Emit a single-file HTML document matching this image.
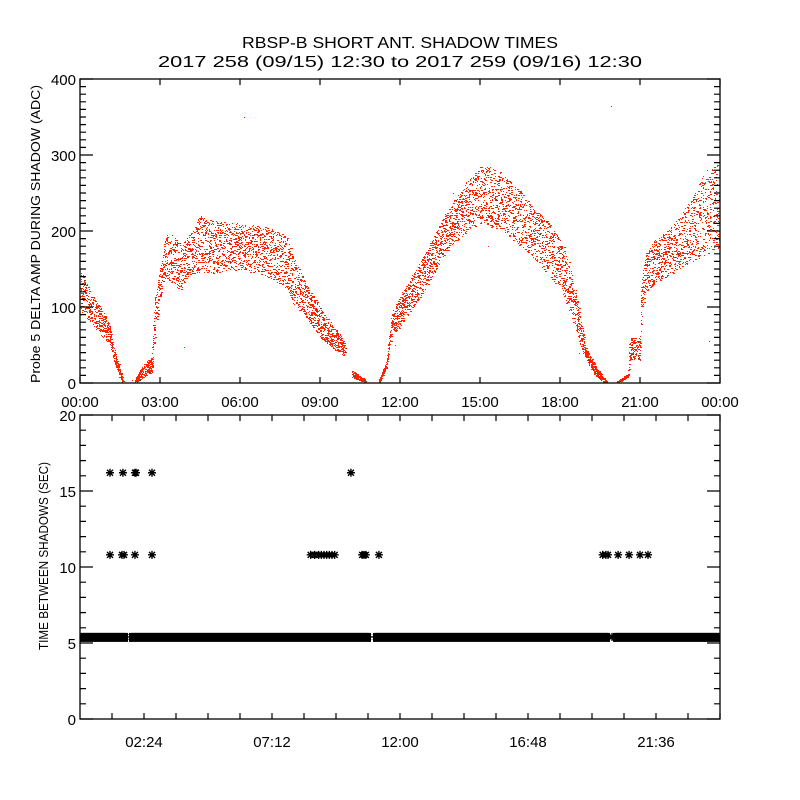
<!DOCTYPE html>
<html><head><meta charset="utf-8"><style>
html,body{margin:0;padding:0;background:#fff;}
svg{display:block;font-family:"Liberation Sans",sans-serif;}
</style></head><body>
<svg id="chart" width="800" height="800" viewBox="0 0 800 800" xmlns="http://www.w3.org/2000/svg">
<rect width="800" height="800" fill="#fff"/>
<defs><clipPath id="clipTop"><rect x="80" y="79" width="640" height="304"/></clipPath><clipPath id="clipBot"><rect x="80" y="415" width="640" height="304"/></clipPath></defs>
<text x="400" y="48" text-anchor="middle" font-size="16" textLength="316" lengthAdjust="spacingAndGlyphs">RBSP-B SHORT ANT. SHADOW TIMES</text>
<text x="400" y="67" text-anchor="middle" font-size="16" textLength="484" lengthAdjust="spacingAndGlyphs">2017 258 (09/15) 12:30 to 2017 259 (09/16) 12:30</text>
<g id="topPanel"></g>
<g id="botPanel"></g>
<text transform="translate(40,234) rotate(-90)" text-anchor="middle" font-size="13" textLength="298" lengthAdjust="spacingAndGlyphs">Probe 5 DELTA AMP DURING SHADOW (ADC)</text>
<text transform="translate(48,556) rotate(-90)" text-anchor="middle" font-size="13" textLength="188" lengthAdjust="spacingAndGlyphs">TIME BETWEEN SHADOWS (SEC)</text>
</svg>
<script>
// ---- top panel data (amplitude envelope, hours since start) ----
const ampHours = [0,0.5,1.0,1.1,1.2,1.45,1.6, 2.06,2.4,2.7,2.8,3.0,3.2,3.5,3.8,4.0,4.5,5,6,7,7.5,7.8,8.0,8.5,9.0,9.5,9.95, 10.2,10.45,10.7, 11.2,11.5,11.6,11.7,12,12.5,13,13.5,14,14.5,15,15.5,16,16.5,17,17.5,18,18.3,18.6,18.8,19.0,19.3,19.6,19.75, 20.15,20.55, 20.6,21.0, 21.05,21.2,21.5,22,22.5,23,23.5,24];
const ampLow   = [95,75,55,55,40,10,0, 0,8,15,60,110,140,130,120,140,145,145,150,140,130,120,105,85,60,45,35, 8,4,1, 1,20,50,60,75,100,125,160,180,200,210,205,195,180,165,145,125,100,65,45,30,10,2,0, 0,8, 30,30, 80,120,130,140,150,160,170,180];
const ampHigh  = [150,115,85,80,55,25,5, 5,25,35,110,150,195,195,180,190,220,215,210,205,200,190,165,130,100,75,55, 17,10,4, 4,30,65,95,115,145,175,210,240,265,285,285,270,255,230,215,190,170,120,80,45,25,8,3, 3,12, 60,60, 130,170,190,200,220,250,280,290];
const ampGaps  = [[1.6,2.06],[9.95,10.2],[10.7,11.2],[19.75,20.15]];
const ampOutH  = [6.15,19.9,3.9,1.95,15.3,23.6,18.7,11.8,14.0];
const ampOutV  = [350,365,48,4,180,55,40,50,250];
const topYTicks = [0,100,200,300,400];
const topXTicks = ["00:00","03:00","06:00","09:00","12:00","15:00","18:00","21:00","00:00"];
// ---- bottom panel data ----
const bandSegStart = [0,1.95,11.1,20.1];
const bandSegEnd   = [1.69,10.8,19.76,24];
const bandValue = 5.4;
const outH = [1.125,1.61,2.06,2.1,2.7,10.16, 1.125,1.575,1.65,2.06,2.7,8.65,8.8,8.95,9.05,9.15,9.25,9.35,9.45,9.55,10.58,10.65,10.72,11.21,19.6,19.72,19.8,19.95,20.18,20.59,21.0,21.3];
const outV = [16.2,16.2,16.2,16.2,16.2,16.2, 10.8,10.8,10.8,10.8,10.8,10.8,10.8,10.8,10.8,10.8,10.8,10.8,10.8,10.8,10.8,10.8,10.8,10.8,10.8,10.8,10.8,5.4,10.8,10.8,10.8,10.8];
const botYTicks = [0,5,10,15,20];
const botXTicks = ["02:24","07:12","12:00","16:48","21:36"];

const NS="http://www.w3.org/2000/svg";
const L=80,R=720;
const T1=79,B1=383,T2=415,B2=719;
const xs=h=>L+(R-L)*h/24;
const y1=v=>B1-(B1-T1)*v/400;
const y2=v=>B2-(B2-T2)*v/20;
function mk(p,tag,at){const e=document.createElementNS(NS,tag);for(const k in at)e.setAttribute(k,at[k]);p.appendChild(e);return e;}
const topG=document.getElementById('topPanel'),botG=document.getElementById('botPanel');

function interp(arrX,arrY,h){
  for(let i=0;i<arrX.length-1;i++){if(h>=arrX[i]&&h<=arrX[i+1]){const f=(h-arrX[i])/((arrX[i+1]-arrX[i])||1);return arrY[i]+f*(arrY[i+1]-arrY[i]);}}
  return arrY[arrY.length-1];
}
// deterministic hash used only for dot placement within the band
function hsh(n,s){let x=Math.sin(n*12.9898+s*78.233)*43758.5453;return x-Math.floor(x);}
let d="",dk="";let k=0;
for(let h0=0;h0<=24;h0+=0.003){
  k++;
  const h=h0+(hsh(k,1)-0.5)*0.1;
  if(h<0||h>24)continue;
  if(ampGaps.some(q=>h>q[0]&&h<q[1]))continue;
  const lo=interp(ampHours,ampLow,h),hi=interp(ampHours,ampHigh,h);
  const f=hsh(k,2);
  const v=lo+(hi-lo)*f;
  const px=Math.round(xs(h)),py=Math.round(y1(v));
  const w=(hsh(k,3)<0.3)?2:1;
  const seg="M"+px+" "+py+"h"+w+"v1h-"+w+"z";
  if(hsh(k,4)<0.02) dk+=seg; else d+=seg;
}
for(let i=0;i<ampOutH.length;i++){d+="M"+Math.round(xs(ampOutH[i]))+" "+Math.round(y1(ampOutV[i]))+"h1v1h-1z";}
const sc=mk(topG,'path',{d:d,fill:'#ff2200','clip-path':'url(#clipTop)'});


const sc2=mk(topG,'path',{d:dk,fill:'#883322','clip-path':'url(#clipTop)'});



const ax1=mk(topG,'rect',{x:L,y:T1,width:R-L,height:B1-T1,fill:'none',stroke:'#000','stroke-width':1.3});


let td="";
for(let v=0;v<=400;v+=10){const yy=y1(v),len=(v%100===0)?13:6;td+="M"+L+" "+yy+"h"+len+"M"+R+" "+yy+"h"+(-len);}
for(let i=0;i<topXTicks.length;i++){const xx=xs(i*3);td+="M"+xx+" "+B1+"v-6M"+xx+" "+T1+"v6";}
mk(topG,'path',{d:td,stroke:'#000','stroke-width':1.2,fill:'none'});
topYTicks.forEach(v=>{const t=mk(topG,'text',{x:L-4,y:y1(v)+6,'text-anchor':'end','font-size':15});t.textContent=v;

});
topXTicks.forEach((s,i)=>{const t=mk(topG,'text',{x:xs(i*3),y:B1+24,'text-anchor':'middle','font-size':15});t.textContent=s;

});

function star(x,y){const r=4;return "M"+(x-r)+" "+y+"h"+(2*r)+"M"+x+" "+(y-r)+"v"+(2*r)+"M"+(x-3)+" "+(y-3)+"l6 6M"+(x-3)+" "+(y+3)+"l6 -6";}
let sd="";
for(let s=0;s<bandSegStart.length;s++){
  for(let h=bandSegStart[s];h<=bandSegEnd[s];h+=0.04){sd+=star(xs(h),y2(bandValue));}
  sd+=star(xs(bandSegEnd[s]),y2(bandValue));
}
for(let i=0;i<outH.length;i++){sd+=star(xs(outH[i]),y2(outV[i]));}
const st=mk(botG,'path',{d:sd,stroke:'#000','stroke-width':1.4,fill:'none','clip-path':'url(#clipBot)'});


for(let s=0;s<bandSegStart.length;s++){
  const b=mk(botG,'rect',{x:xs(bandSegStart[s])-3,y:y2(bandValue)-4,width:xs(bandSegEnd[s])-xs(bandSegStart[s])+6,height:9,fill:'#000','clip-path':'url(#clipBot)'});
  
  
}
const ax2=mk(botG,'rect',{x:L,y:T2,width:R-L,height:B2-T2,fill:'none',stroke:'#000','stroke-width':1.3});


let bd="";
for(let v=0;v<=20;v+=1){const yy=y2(v),len=(v%5===0)?13:6;bd+="M"+L+" "+yy+"h"+len+"M"+R+" "+yy+"h"+(-len);}
for(let h=1.2;h<24;h+=1.2){const xx=xs(h);bd+="M"+xx+" "+B2+"v-6M"+xx+" "+T2+"v6";}
mk(botG,'path',{d:bd,stroke:'#000','stroke-width':1.2,fill:'none'});
botYTicks.forEach(v=>{const t=mk(botG,'text',{x:L-4,y:y2(v)+6,'text-anchor':'end','font-size':15});t.textContent=v;

});
botXTicks.forEach((s,i)=>{const t=mk(botG,'text',{x:xs(2.4+i*4.8),y:B2+28,'text-anchor':'middle','font-size':15});t.textContent=s;

});
</script>
</body></html>
